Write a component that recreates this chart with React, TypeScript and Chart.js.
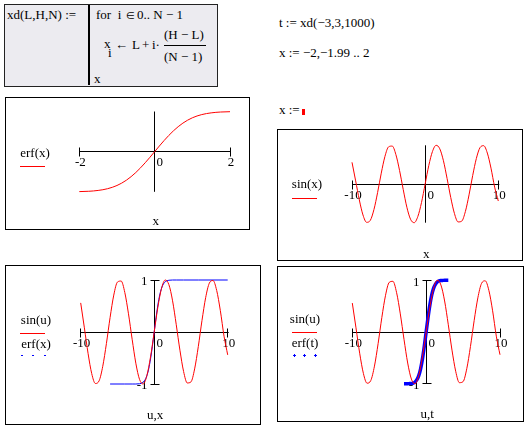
import React, { useEffect, useRef } from "react";
import { Chart, registerables } from "chart.js";
Chart.register(...registerables);

const FONT = '13px "Liberation Serif", "Times New Roman", serif';
const RED = "#ff0000";
const BLUE = "#0000ff";

// ---- data ----
const sinX = [-10, -9.5, -9, -8.5, -8, -7.5, -7, -6.5, -6, -5.5, -5, -4.5, -4, -3.5, -3, -2.5, -2, -1.5, -1, -0.5, 0, 0.5, 1, 1.5, 2, 2.5, 3, 3.5, 4, 4.5, 5, 5.5, 6, 6.5, 7, 7.5, 8, 8.5, 9, 9.5, 10];
const sinY = [0.56, 0.08, -0.41, -0.8, -0.99, -0.94, -0.66, -0.22, 0.28, 0.71, 0.96, 0.98, 0.76, 0.35, -0.14, -0.6, -0.91, -1.0, -0.84, -0.48, 0, 0.48, 0.84, 1.0, 0.91, 0.6, 0.14, -0.35, -0.76, -0.98, -0.96, -0.71, -0.28, 0.22, 0.66, 0.94, 0.99, 0.8, 0.41, -0.08, -0.44];

const erf1X = [-2, -1.75, -1.5, -1.25, -1, -0.75, -0.5, -0.25, 0, 0.25, 0.5, 0.75, 1, 1.25, 1.5, 1.75, 2];
const erf1Y = [-0.995, -0.987, -0.966, -0.923, -0.843, -0.711, -0.52, -0.276, 0, 0.276, 0.52, 0.711, 0.843, 0.923, 0.966, 0.987, 0.995];

const erf3X = [-6, -4, -3, -2.5, -2, -1.75, -1.5, -1.25, -1, -0.75, -0.5, -0.25, 0, 0.25, 0.5, 0.75, 1, 1.25, 1.5, 1.75, 2, 2.5, 3, 4, 6, 8, 10];
const erf3Y = [-1, -1, -1, -1, -0.995, -0.987, -0.966, -0.923, -0.843, -0.711, -0.52, -0.276, 0, 0.276, 0.52, 0.711, 0.843, 0.923, 0.966, 0.987, 0.995, 1, 1, 1, 1, 1, 1];

const erfTX = [-3, -2.75, -2.5, -2.25, -2, -1.75, -1.5, -1.25, -1, -0.75, -0.5, -0.25, 0, 0.25, 0.5, 0.75, 1, 1.25, 1.5, 1.75, 2, 2.25, 2.5, 2.75, 3];
const erfTY = [-1, -1, -1, -0.998, -0.995, -0.987, -0.966, -0.923, -0.843, -0.711, -0.52, -0.276, 0, 0.276, 0.52, 0.711, 0.843, 0.923, 0.966, 0.987, 0.995, 0.998, 1, 1, 1];

const ticksErf = [-2, 2];
const ticksSin = [-10, 10];
const ticksUnit = [1, -1];

type Series = { xs: number[]; ys: number[]; color: string; width: number };
type LegendItem = { label: string; tx: number; ty: number; kind: "line" | "dots" | "plus"; color: string; my: number; mx: number[] };
type PlotCfg = {
  left: number; top: number; width: number; height: number;
  pad: { left: number; right: number; top: number; bottom: number };
  xMin: number; xMax: number; yMin: number; yMax: number;
  xTicks: number[]; yTicks: number[];
  title: string; titleY: number;
  series: Series[]; legend: LegendItem[];
};

const fmt = (v: number) => (v < 0 ? "-" + Math.abs(v) : String(v));

function makePlugin(cfg: PlotCfg) {
  return {
    id: "mathcadFrame",
    beforeDatasetsDraw(chart: any) {
      const ctx = chart.ctx as CanvasRenderingContext2D;
      const sx = chart.scales.x;
      const sy = chart.scales.y;
      const snap = (v: number) => Math.floor(v) + 0.5;
      const x0 = snap(sx.getPixelForValue(0));
      const y0 = snap(sy.getPixelForValue(0));
      ctx.save();
      ctx.strokeStyle = "#000";
      ctx.lineWidth = 1;
      ctx.strokeRect(0.5, 0.5, chart.width - 1, chart.height - 1);
      ctx.beginPath();
      ctx.moveTo(sx.getPixelForValue(cfg.xMin), y0);
      ctx.lineTo(sx.getPixelForValue(cfg.xMax) + 1, y0);
      ctx.moveTo(x0, sy.getPixelForValue(cfg.yMax));
      ctx.lineTo(x0, sy.getPixelForValue(cfg.yMin));
      for (const t of cfg.xTicks) {
        const p = snap(sx.getPixelForValue(t));
        ctx.moveTo(p, y0 - 4);
        ctx.lineTo(p, y0 + 5);
      }
      for (const t of cfg.yTicks) {
        const p = snap(sy.getPixelForValue(t));
        ctx.moveTo(x0 - 4, p);
        ctx.lineTo(x0 + 5, p);
      }
      ctx.stroke();

      ctx.fillStyle = "#000";
      ctx.font = FONT;
      ctx.textBaseline = "middle";
      ctx.textAlign = "center";
      for (const t of cfg.xTicks) ctx.fillText(fmt(t), sx.getPixelForValue(t) + 1, y0 + 11);
      ctx.textAlign = "left";
      ctx.fillText("0", x0 + 2, y0 + 11);
      ctx.textAlign = "right";
      for (const t of cfg.yTicks) ctx.fillText(fmt(t), x0 - 7, sy.getPixelForValue(t) + 2);
      ctx.textAlign = "center";
      ctx.fillText(cfg.title, (chart.chartArea.left + chart.chartArea.right) / 2 + 1, cfg.titleY);

      for (const it of cfg.legend) {
        ctx.fillStyle = "#000";
        ctx.textAlign = "center";
        ctx.fillText(it.label, it.tx, it.ty);
        ctx.fillStyle = it.color;
        ctx.strokeStyle = it.color;
        if (it.kind === "line") {
          ctx.beginPath();
          ctx.moveTo(it.mx[0], snap(it.my));
          ctx.lineTo(it.mx[1], snap(it.my));
          ctx.stroke();
        } else if (it.kind === "dots") {
          for (const m of it.mx) ctx.fillRect(Math.round(m), Math.round(it.my), 2, 1);
        } else {
          for (const m of it.mx) {
            const cx = Math.round(m);
            const cy = Math.round(it.my);
            ctx.fillRect(cx - 1, cy, 3, 1);
            ctx.fillRect(cx, cy - 1, 1, 3);
          }
        }
      }
      ctx.restore();
    },
  };
}

const plots: PlotCfg[] = [
  {
    left: 5, top: 97, width: 245, height: 133,
    pad: { left: 74.3, right: 20, top: 14.5, bottom: 38.2 },
    xMin: -2, xMax: 2, yMin: -1, yMax: 1,
    xTicks: ticksErf, yTicks: [],
    title: "x", titleY: 124.7,
    series: [{ xs: erf1X, ys: erf1Y, color: RED, width: 1 }],
    legend: [{ label: "erf(x)", tx: 30, ty: 57, kind: "line", color: RED, my: 69, mx: [15, 40] }],
  },
  {
    left: 277, top: 129, width: 246, height: 132,
    pad: { left: 75, right: 24.7, top: 16.3, bottom: 38.3 },
    xMin: -10, xMax: 10, yMin: -1, yMax: 1,
    xTicks: ticksSin, yTicks: [],
    title: "x", titleY: 126,
    series: [{ xs: sinX, ys: sinY, color: RED, width: 1 }],
    legend: [{ label: "sin(x)", tx: 30, ty: 56, kind: "line", color: RED, my: 69.3, mx: [15, 40] }],
  },
  {
    left: 5, top: 265, width: 256, height: 160,
    pad: { left: 75.7, right: 33.3, top: 15, bottom: 41 },
    xMin: -10, xMax: 10, yMin: -1, yMax: 1,
    xTicks: ticksSin, yTicks: ticksUnit,
    title: "u,x", titleY: 150.3,
    series: [
      { xs: sinX, ys: sinY, color: RED, width: 1 },
      { xs: erf3X, ys: erf3Y, color: BLUE, width: 1 },
    ],
    legend: [
      { label: "sin(u)", tx: 31, ty: 55.3, kind: "line", color: RED, my: 68, mx: [15, 40] },
      { label: "erf(x)", tx: 31, ty: 79.3, kind: "dots", color: BLUE, my: 90.3, mx: [16, 27.3, 39.3] },
    ],
  },
  {
    left: 277, top: 266, width: 247, height: 156,
    pad: { left: 75.3, right: 24, top: 14.3, bottom: 38.3 },
    xMin: -10, xMax: 10, yMin: -1, yMax: 1,
    xTicks: ticksSin, yTicks: ticksUnit,
    title: "u,t", titleY: 149,
    series: [
      { xs: sinX, ys: sinY, color: RED, width: 1 },
      { xs: erfTX, ys: erfTY, color: BLUE, width: 3.5 },
    ],
    legend: [
      { label: "sin(u)", tx: 28, ty: 53.3, kind: "line", color: RED, my: 66.3, mx: [15, 40] },
      { label: "erf(t)", tx: 28, ty: 77.3, kind: "plus", color: BLUE, my: 89.3, mx: [16.7, 27.3, 38.3] },
    ],
  },
];

function Plot({ cfg }: { cfg: PlotCfg }) {
  const ref = useRef<HTMLCanvasElement | null>(null);
  useEffect(() => {
    if (!ref.current) return;
    const chart = new Chart(ref.current, {
      type: "scatter",
      data: {
        datasets: cfg.series.map((s) => ({
          data: s.xs.map((x, i) => ({ x, y: s.ys[i] })),
          showLine: true,
          borderColor: s.color,
          backgroundColor: s.color,
          borderWidth: s.width,
          pointRadius: 0,
          fill: false,
          cubicInterpolationMode: "monotone",
          clip: false,
        })) as any,
      },
      options: {
        responsive: false,
        animation: false,
        devicePixelRatio: 1,
        events: [],
        layout: { padding: cfg.pad },
        plugins: { legend: { display: false }, tooltip: { enabled: false } },
        scales: {
          x: { type: "linear", min: cfg.xMin, max: cfg.xMax, display: false },
          y: { type: "linear", min: cfg.yMin, max: cfg.yMax, display: false },
        },
      } as any,
      plugins: [makePlugin(cfg) as any],
    });
    return () => chart.destroy();
  }, [cfg]);
  return (
    <canvas
      ref={ref}
      width={cfg.width}
      height={cfg.height}
      style={{ position: "absolute", left: cfg.left, top: cfg.top, width: cfg.width, height: cfg.height }}
    />
  );
}

function T({ x, cy, children, size = 13 }: { x: number; cy: number; children: React.ReactNode; size?: number }) {
  return (
    <span
      style={{
        position: "absolute",
        left: x,
        top: cy - 8,
        lineHeight: "16px",
        fontSize: size,
        whiteSpace: "pre",
        color: "#000",
      }}
    >
      {children}
    </span>
  );
}

export default function App() {
  return (
    <div
      style={{
        position: "fixed",
        left: 0,
        top: 0,
        width: 528,
        height: 426,
        background: "#fff",
        overflow: "hidden",
        fontFamily: '"Liberation Serif", "Times New Roman", serif',
      }}
    >
      <div
        style={{
          position: "absolute",
          left: 4,
          top: 4,
          width: 214,
          height: 83,
          boxSizing: "border-box",
          border: "1px solid #222",
          background: "#ecebf0",
        }}
      />
      <div style={{ position: "absolute", left: 88, top: 5, width: 2, height: 80, background: "#000" }} />
      <T x={7} cy={15}>xd(L,H,N) :=</T>
      <T x={96} cy={15}>for  i</T>
      <T x={126} cy={16} size={10}>∈</T>
      <T x={137} cy={15}>0.. N − 1</T>
      <T x={104} cy={44}>x</T>
      <T x={108} cy={53}>i</T>
      <T x={115} cy={45}>←</T>
      <T x={132} cy={45}>L</T>
      <T x={142} cy={45}>+</T>
      <T x={152} cy={45}>i·</T>
      <T x={164} cy={35}>(H − L)</T>
      <div style={{ position: "absolute", left: 164, top: 45, width: 42, height: 1, background: "#000" }} />
      <T x={164} cy={57}>(N − 1)</T>
      <T x={94} cy={79}>x</T>

      <T x={279} cy={23}>t := xd(−3,3,1000)</T>
      <T x={279} cy={53}>x := −2,−1.99 .. 2</T>
      <T x={279} cy={110}>x := </T>
      <div style={{ position: "absolute", left: 302, top: 109, width: 3, height: 6, background: RED }} />

      {plots.map((p, i) => (
        <Plot key={i} cfg={p} />
      ))}
    </div>
  );
}
